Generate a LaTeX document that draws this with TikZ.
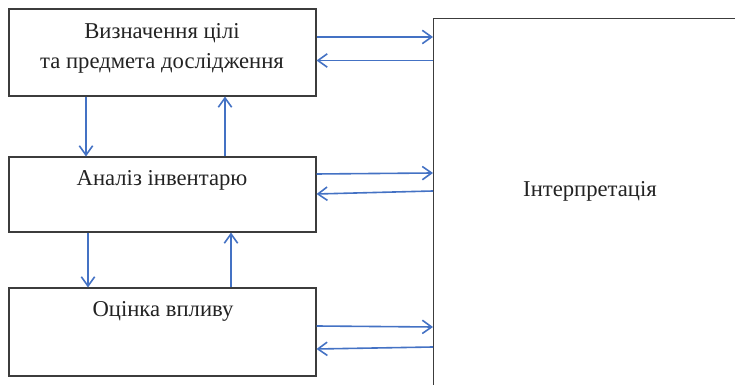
\documentclass[tikz,border=0pt]{standalone}
\usepackage{fontspec}
\setmainfont{Liberation Serif}
\usetikzlibrary{arrows.meta,calc}
\definecolor{arrblue}{RGB}{68,114,196}
\definecolor{boxgray}{RGB}{60,60,60}
\definecolor{txtgray}{RGB}{35,35,35}

\begin{document}
\begin{tikzpicture}[x=0.75pt,y=0.75pt]
    \tikzset{
    blk/.style={rectangle,draw=boxgray,line width=0.8pt,minimum width=230.25pt,inner sep=0pt},
    lbl/.style={font=\fontsize{17}{22}\selectfont,text=txtgray,inner sep=0pt,align=center},
    fw/.style={-{Straight Barb[length=7pt,width=10pt]},arrblue,line width=1.2pt},
    }
    \useasboundingbox (0,0) rectangle (735,385);
    \clip (0,0) rectangle (735,385);

    \node[blk,minimum height=65.25pt] (b1) at (162.5,332.5) {};
    \node[blk,minimum height=56.25pt] (b2) at (162.5,190.5) {};
    \node[blk,minimum height=66pt] (b3) at (162.5,53) {};
    \node[blk,anchor=north west,minimum width=240pt,minimum height=300pt] (interp) at (433,367) {};

    \node[lbl] (t1) at (162,336.5) {Визначення цілі\\та предмета дослідження};
    \node[lbl,anchor=base] (t2) at (162,199) {Аналіз інвентарю};
    \node[lbl,anchor=base] (t3) at (163,68.3) {Оцінка впливу};
    \node[lbl,anchor=base] (ti) at (590,188) {Інтерпретація};

    % to and from the interpretation
    \draw[fw] ($(b1.east)+(0,15.5)$) -- ($(interp.west |- b1.east)+(0,15.5)$);
    \draw[fw] ($(interp.west |- b1.east)+(0,-8)$) -- ($(b1.east)+(0,-8)$);
    \draw[fw] ($(b2.east)+(0,20.5)$) -- ($(interp.west |- b2.east)+(0,21.5)$);
    \draw[fw] ($(interp.west |- b2.east)+(0,3.5)$) -- ($(b2.east)+(0,0.5)$);
    \draw[fw] ($(b3.east)+(0,6)$) -- ($(interp.west |- b3.east)+(0,5)$);
    \draw[fw] ($(interp.west |- b3.east)+(0,-15)$) -- ($(b3.east)+(0,-17)$);

    % between the steps
    \draw[fw] ($(b1.south)+(-76.5,0)$) -- ($(b2.north)+(-76.5,0)$);
    \draw[fw] ($(b2.north)+(62.5,0)$) -- ($(b1.south)+(62.5,0)$);
    \draw[fw] ($(b2.south)+(-74.5,0)$) -- ($(b3.north)+(-74.5,0)$);
    \draw[fw] ($(b3.north)+(68.5,0)$) -- ($(b2.south)+(68.5,0)$);
\end{tikzpicture}
\end{document}
